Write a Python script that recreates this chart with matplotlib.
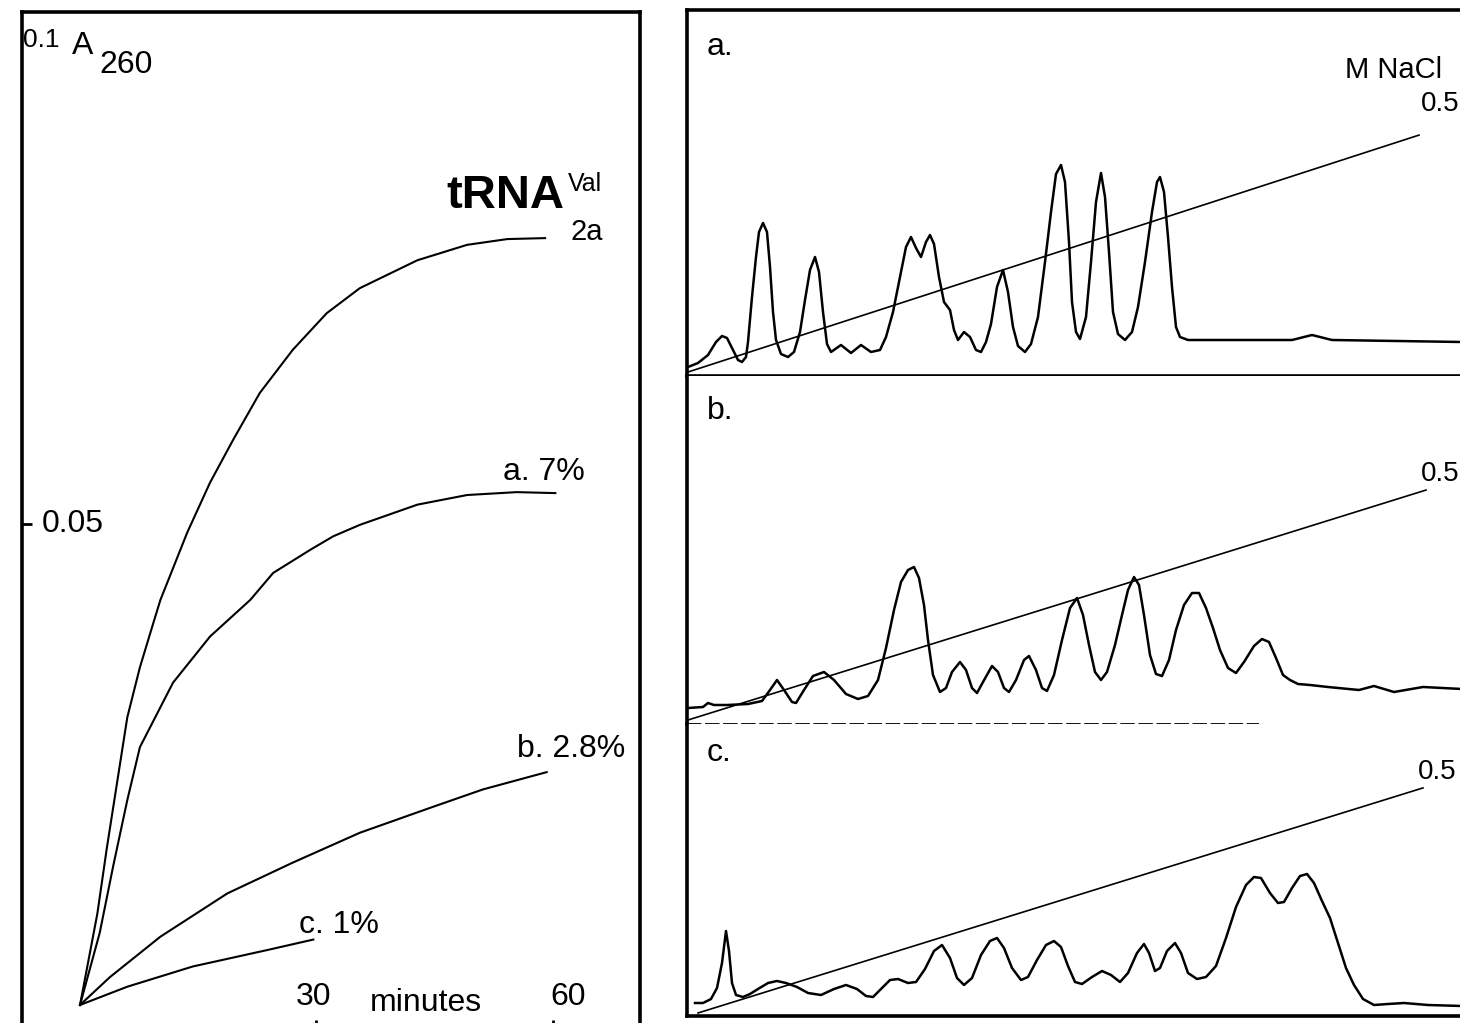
import matplotlib
matplotlib.use('Agg')
import matplotlib.pyplot as plt

plt.rcParams['font.family'] = ['Liberation Sans Narrow', 'Liberation Sans', 'DejaVu Sans']

# ---- left panel: A260 vs minutes ----
t_total = [0, 2.2, 3.4, 4.7, 6.0, 7.6, 9.3, 10.2, 13.6, 16.5, 19.4, 22.8, 27.0, 31.3, 35.5, 42.8, 49.1, 54.2, 59.0]
a_total = [0, 0.0095, 0.0163, 0.0231, 0.0299, 0.0351, 0.0397, 0.0421, 0.0491, 0.0543, 0.0587, 0.0636, 0.0681,
           0.0719, 0.0745, 0.0774, 0.0790, 0.0796, 0.0797]
t_a = [0, 2.5, 4.2, 6.0, 7.6, 11.8, 16.5, 21.6, 24.5, 29.2, 32.1, 35.5, 42.8, 49.1, 55.4, 60.3]
a_a = [0, 0.0075, 0.0144, 0.0213, 0.0268, 0.0335, 0.0383, 0.0421, 0.0449, 0.0473, 0.0487, 0.0499, 0.0520,
       0.0530, 0.0533, 0.0532]
t_b = [0, 3.8, 10.2, 18.7, 27.0, 35.5, 44.8, 51.1, 59.2]
a_b = [0, 0.0029, 0.0071, 0.0116, 0.0148, 0.0179, 0.0206, 0.0224, 0.0242]
t_c = [0, 6.0, 14.3, 23.7, 29.6]
a_c = [0, 0.0019, 0.0040, 0.0057, 0.0068]

# ---- right panels: elution profiles (fraction, A260) ----
xa = [0, 1.0, 2.0, 2.8, 3.4, 3.9, 4.5, 5.0, 5.4, 5.8, 6.0, 6.4, 6.8, 7.1, 7.5, 7.9, 8.2, 8.5, 8.8, 9.3, 10.0,
      10.6, 11.2, 11.7, 12.2, 12.7, 13.1, 13.5, 13.9, 14.3, 15.3, 16.3, 17.3, 18.3, 19.2, 19.8, 20.5, 21.2,
      21.8, 22.3, 22.8, 23.3, 23.8, 24.2, 24.6, 25.1, 25.6, 26.2, 26.6, 27.0, 27.6, 28.2, 28.8, 29.3, 29.8,
      30.3, 30.9, 31.5, 32.0, 32.5, 33.0, 33.7, 34.3, 35.0, 35.7, 36.3, 36.8, 37.3, 37.7, 38.1, 38.4, 38.8,
      39.2, 39.8, 40.3, 40.8, 41.3, 41.7, 42.1, 42.5, 43.0, 43.7, 44.4, 45.0, 45.7, 46.4, 46.9, 47.2, 47.6,
      48.0, 48.4, 48.8, 49.2, 50.0, 56.4, 60.4, 62.4, 64.4, 77.4]
ya = [0.05, 0.09, 0.17, 0.30, 0.36, 0.34, 0.22, 0.12, 0.10, 0.15, 0.30, 0.75, 1.15, 1.40, 1.49, 1.40, 1.05,
      0.60, 0.32, 0.18, 0.15, 0.20, 0.40, 0.72, 1.02, 1.15, 1.00, 0.60, 0.28, 0.20, 0.27, 0.19, 0.27, 0.20,
      0.22, 0.35, 0.60, 0.95, 1.25, 1.35, 1.24, 1.15, 1.30, 1.37, 1.28, 0.95, 0.70, 0.62, 0.42, 0.32, 0.40,
      0.35, 0.22, 0.20, 0.30, 0.48, 0.85, 1.02, 0.80, 0.45, 0.26, 0.20, 0.28, 0.55, 1.10, 1.60, 1.98, 2.07,
      1.90, 1.30, 0.70, 0.40, 0.33, 0.55, 1.10, 1.70, 1.99, 1.75, 1.20, 0.60, 0.38, 0.32, 0.40, 0.65, 1.10,
      1.60, 1.90, 1.95, 1.80, 1.35, 0.85, 0.45, 0.35, 0.32, 0.32, 0.32, 0.37, 0.32, 0.30]
xb = [0, 1.5, 2.0, 2.6, 3.9, 6.0, 7.4, 8.2, 8.9, 9.6, 10.4, 10.8, 11.6, 12.5, 13.6, 14.6, 15.8, 17.0, 18.0,
      19.0, 19.8, 20.6, 21.3, 22.0, 22.6, 23.1, 23.6, 24.0, 24.5, 25.2, 25.8, 26.4, 27.2, 27.8, 28.4, 28.9,
      29.5, 30.4, 31.0, 31.6, 32.1, 32.8, 33.6, 34.1, 34.8, 35.4, 35.9, 36.6, 37.4, 38.2, 38.9, 39.5, 40.1,
      40.7, 41.3, 41.9, 42.7, 43.4, 44.0, 44.6, 45.1, 45.6, 46.2, 46.8, 47.4, 48.1, 48.8, 49.6, 50.4, 51.1,
      51.8, 52.5, 53.2, 54.0, 54.8, 55.6, 56.6, 57.4, 58.1, 58.8, 59.5, 60.2, 61.0, 62.2, 64.0, 67.1, 68.6,
      70.6, 73.5, 77.4]
yb = [0.12, 0.13, 0.17, 0.15, 0.15, 0.16, 0.19, 0.30, 0.40, 0.30, 0.18, 0.17, 0.30, 0.44, 0.48, 0.40, 0.26,
      0.21, 0.24, 0.40, 0.72, 1.10, 1.38, 1.50, 1.53, 1.42, 1.15, 0.80, 0.45, 0.28, 0.32, 0.48, 0.58, 0.50,
      0.32, 0.27, 0.38, 0.54, 0.48, 0.32, 0.28, 0.40, 0.60, 0.64, 0.50, 0.32, 0.29, 0.45, 0.80, 1.12, 1.22,
      1.05, 0.75, 0.48, 0.40, 0.48, 0.75, 1.05, 1.30, 1.43, 1.35, 1.05, 0.65, 0.46, 0.44, 0.60, 0.90, 1.15,
      1.27, 1.27, 1.12, 0.92, 0.70, 0.52, 0.47, 0.58, 0.74, 0.81, 0.78, 0.62, 0.45, 0.40, 0.36, 0.35, 0.33,
      0.30, 0.34, 0.28, 0.33, 0.31]
xc = [0.7, 1.5, 2.3, 2.9, 3.4, 3.8, 4.1, 4.4, 4.8, 5.5, 6.2, 7.0, 8.0, 8.9, 9.8, 10.9, 12.0, 13.3, 14.6, 15.8,
      16.9, 17.8, 18.5, 19.3, 20.2, 21.0, 22.0, 22.8, 23.7, 24.6, 25.4, 26.2, 26.9, 27.6, 28.4, 29.3, 30.2,
      30.9, 31.6, 32.4, 33.3, 34.0, 34.9, 35.8, 36.6, 37.3, 38.0, 38.7, 39.4, 40.4, 41.4, 42.3, 43.2, 44.0,
      44.9, 45.6, 46.1, 46.7, 47.2, 47.9, 48.7, 49.3, 50.0, 50.9, 51.8, 52.8, 53.8, 54.8, 55.8, 56.6, 57.3,
      58.2, 59.0, 59.6, 60.4, 61.2, 61.9, 62.6, 63.4, 64.2, 65.0, 65.8, 66.6, 67.5, 68.6, 70.0, 71.6, 74.0, 77.4]
yc = [0.10, 0.10, 0.14, 0.25, 0.50, 0.82, 0.62, 0.30, 0.18, 0.16, 0.19, 0.24, 0.30, 0.32, 0.30, 0.26, 0.20,
      0.18, 0.24, 0.28, 0.24, 0.17, 0.16, 0.24, 0.33, 0.34, 0.30, 0.31, 0.44, 0.62, 0.68, 0.55, 0.35, 0.28,
      0.35, 0.58, 0.72, 0.75, 0.65, 0.45, 0.33, 0.36, 0.53, 0.68, 0.72, 0.66, 0.47, 0.31, 0.29, 0.36, 0.42,
      0.38, 0.31, 0.40, 0.60, 0.69, 0.60, 0.42, 0.45, 0.62, 0.70, 0.60, 0.40, 0.34, 0.36, 0.47, 0.75, 1.06,
      1.28, 1.36, 1.35, 1.20, 1.10, 1.11, 1.25, 1.37, 1.39, 1.30, 1.12, 0.95, 0.70, 0.45, 0.28, 0.14, 0.08,
      0.09, 0.10, 0.08, 0.07]

# NaCl gradient, 0 -> 0.5 M
grad_a = ([0, 73.1], [0, 0.5])
grad_b = ([0, 73.8], [0, 0.5])
grad_c = ([1.0, 73.5], [0, 0.5])

W, H = 1460, 1023
fig = plt.figure(figsize=(W / 100, H / 100), dpi=100)


def px_axes(l, t, r, b):
    return fig.add_axes([l / W, 1 - b / H, (r - l) / W, (b - t) / H])


def clean(ax):
    ax.set_xticks([])
    ax.set_yticks([])
    for s in ax.spines.values():
        s.set_linewidth(2.6)


# left panel
ax = px_axes(22, 12, 640, 1030)
clean(ax)
ax.set_xlim(-7.36, 71.04)
ax.set_ylim(-0.0026, 0.1032)
for t, a in [(t_total, a_total), (t_a, a_a), (t_b, a_b), (t_c, a_c)]:
    ax.plot(t, a, color='black', lw=1.5)
ax.set_yticks([0.05])
ax.set_yticklabels([])
ax.set_xticks([30, 60])
ax.set_xticklabels([])
ax.tick_params(direction='in', length=7, width=2)
fs = 23
ax.text(-7.2, 0.0996, '0.1', fontsize=19, va='baseline', ha='left')
ax.text(-1.0, 0.0988, 'A', fontsize=fs, va='baseline', ha='left')
ax.text(2.5, 0.0969, '260', fontsize=fs, va='baseline', ha='left')
ax.text(-4.9, 0.0500, '0.05', fontsize=fs, va='center', ha='left')
ax.text(61.4, 0.0828, 'tRNA', fontsize=34, fontweight='bold', va='baseline', ha='right')
ax.text(61.9, 0.0846, 'Val', fontsize=18, va='baseline', ha='left')
ax.text(62.2, 0.0795, '2a', fontsize=21, va='baseline', ha='left')
ax.text(53.6, 0.0546, 'a. 7%', fontsize=fs, va='baseline', ha='left')
ax.text(55.4, 0.0258, 'b. 2.8%', fontsize=fs, va='baseline', ha='left')
ax.text(27.8, 0.0075, 'c. 1%', fontsize=fs, va='baseline', ha='left')
ax.text(29.6, 0.0000, '30', fontsize=fs, va='baseline', ha='center')
ax.text(43.9, -0.0006, 'minutes', fontsize=fs, va='baseline', ha='center')
ax.text(61.9, 0.0000, '60', fontsize=fs, va='baseline', ha='center')

# right panels
panels = [
    (px_axes(687, 10, 1470, 376), xa, ya, grad_a, (-0.04, 3.62), (-0.0084, 0.764), 'a.', (1, 13)),
    (px_axes(687, 376, 1470, 724), xb, yb, grad_b, (-0.04, 3.44), (-0.0087, 0.748), 'b.', (-4, 2)),
    (px_axes(687, 724, 1470, 1016), xc, yc, grad_c, (-0.03, 2.89), (-0.0067, 0.642), 'c.', (-4, 2)),
]
for i, (axr, x, y, grad, ylim, glim, lab, off) in enumerate(panels):
    clean(axr)
    axr.spines['right'].set_visible(False)
    if i > 0:
        axr.spines['top'].set_visible(False)
    if i == 1:
        axr.spines['bottom'].set_visible(False)
        axr.axhline(-0.035, xmin=0, xmax=0.73, color='black', lw=1.3, ls=(0, (8, 2)))
    axr.set_xlim(-0.1, 78.2)
    axr.set_ylim(*ylim)
    axr.plot(x, y, color='black', lw=1.8)
    tw = axr.twinx()
    tw.set_ylim(*glim)
    tw.set_yticks([])
    for s in tw.spines.values():
        s.set_visible(False)
    tw.plot(grad[0], grad[1], color='black', lw=1.2)
    tw.annotate('0.5', xy=(grad[0][1], grad[1][1]), xytext=off, textcoords='offset points',
                fontsize=20, va='bottom', ha='left')
    axr.text(0.025, 0.9, lab, transform=axr.transAxes, fontsize=fs, va='center', ha='left')

panels[0][0].text(0.84, 0.835, 'M NaCl', transform=panels[0][0].transAxes, fontsize=21, va='center', ha='left')

fig.savefig('out.png', dpi=100)
